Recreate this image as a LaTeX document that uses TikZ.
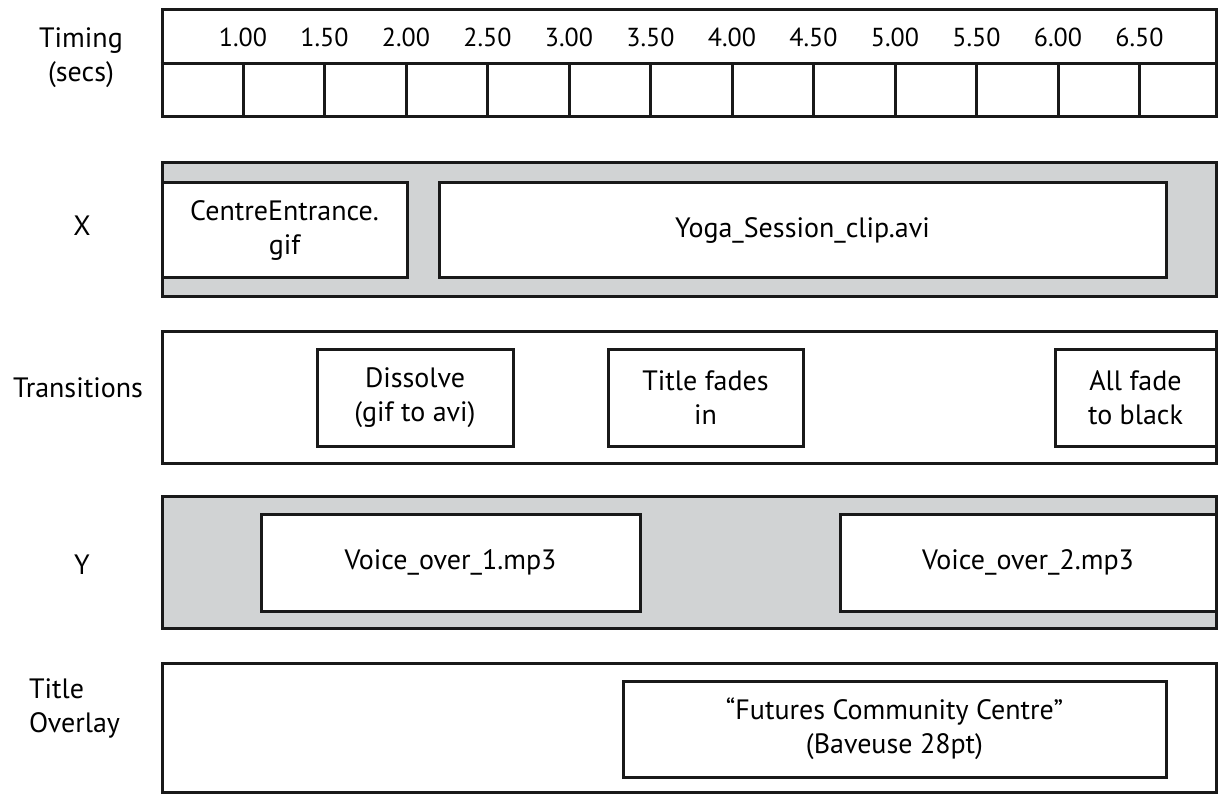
\documentclass[tikz,border=0pt]{standalone}
\usepackage{fontspec}
\setmainfont{PT Sans}
\definecolor{trackgray}{HTML}{D1D3D4}
\begin{document}
\begin{tikzpicture}[x=1pt, y=-1pt, align=center,
  every node/.style={font=\fontsize{28}{34}\selectfont, inner sep=0pt},
  track/.style={draw=black!90, line width=3pt},
  clip/.style={draw=black!90, fill=white, line width=3pt},
  rule/.style={draw=black!90, line width=3pt},
  tick/.style={font=\fontsize{26}{31}\selectfont} ]
\useasboundingbox (0,0) rectangle (1218,794);

% Row labels
\node (lT) at (81,58) {Timing\\(secs)}; \node (lX) at (82,226) {X};
\node (lTr) at (78,388) {Transitions}; \node (lY) at (82,565) {Y};
\node[anchor=west, align=left] (lO) at (29,708) {Title\\Overlay};

% Timing ruler
\node[track, minimum width=1054pt, minimum height=107pt] (timing) at
  (689,63.5) {};
\draw[rule] (timing.west) -- (timing.east);
\foreach \lab [count=\i, evaluate=\i as \x using 243+(\i-1)*81.5] in
  {1.00,1.50,2.00,2.50,3.00,3.50,4.00,4.50,5.00,5.50,6.00,6.50} {
  \node[tick] (t\i) at (\x,37) {\lab};
  \draw[rule] (timing.center -| t\i) -- (timing.south -| t\i); }

% Track X
\node[track, fill=trackgray, minimum width=1054pt, minimum height=134pt]
  (trackX) at (689,230) {};
\node[clip, minimum width=245pt, minimum height=95pt] (gif) at (284.5,230.5)
  {CentreEntrance.\\gif};
\node[clip, minimum width=727pt, minimum height=95pt] (avi) at (802.5,230.5)
  {Yoga\_Session\_clip.avi};

% Transitions
\node[track, fill=white, minimum width=1054pt, minimum height=132pt]
  (trackTr) at (689,397) {};
\node[clip, minimum width=196pt, minimum height=97pt] (dissolve) at
  (415,397.5) {Dissolve\\(gif to avi)};
\node[clip, minimum width=195pt, minimum height=97pt] (fadein) at
  (705.5,397.5) {Title fades\\in};
\node[clip, minimum width=161pt, minimum height=97pt] (fadeout) at
  (1135.5,397.5) {All fade\\to black};

% Track Y
\node[track, fill=trackgray, minimum width=1054pt, minimum height=132pt]
  (trackY) at (689,562) {};
\node[clip, minimum width=379pt, minimum height=97pt] (voice1) at
  (450.5,562.5) {Voice\_over\_1.mp3};
\node[clip, minimum width=376pt, minimum height=97pt] (voice2) at
  (1028,562.5) {Voice\_over\_2.mp3};

% Title overlay
\node[track, fill=white, minimum width=1054pt, minimum height=129pt]
  (trackO) at (689,727.5) {};
\node[clip, minimum width=543pt, minimum height=96pt] (title) at
  (894.5,729) {“Futures Community Centre”\\(Baveuse 28pt)};

\end{tikzpicture}
\end{document}
